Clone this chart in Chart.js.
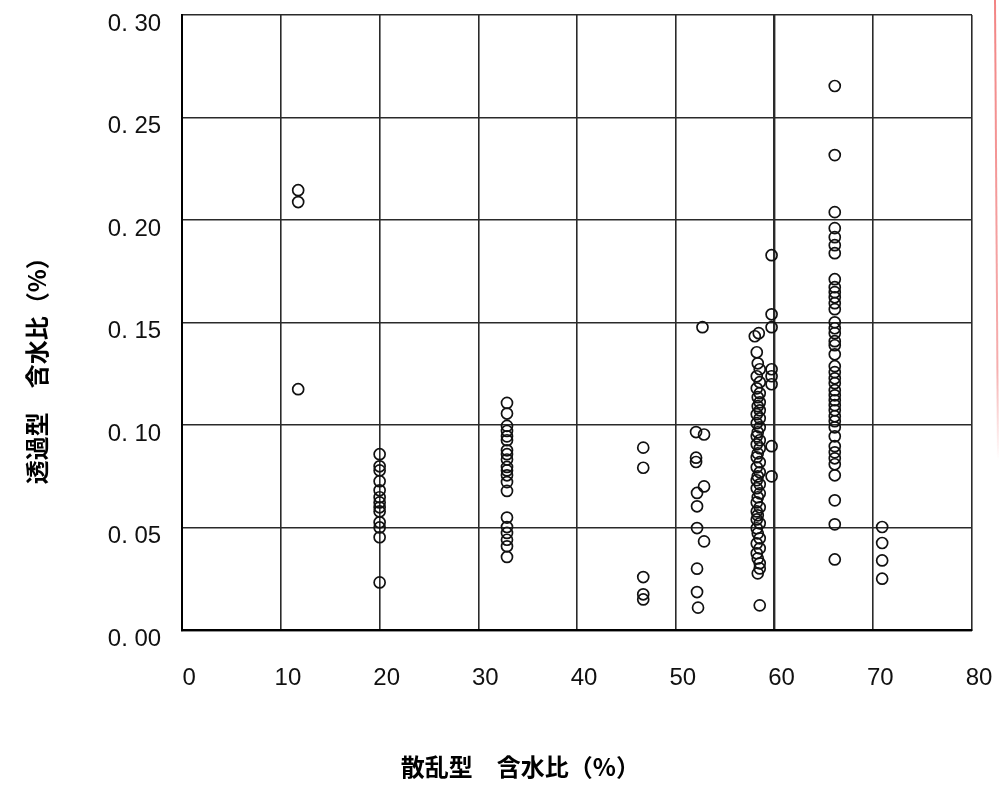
<!DOCTYPE html>
<html>
<head>
<meta charset="utf-8">
<script src="https://cdn.jsdelivr.net/npm/chart.js@4"></script>
<style>
  html, body { margin: 0; padding: 0; background: #ffffff; }
  #wrap { width: 1001px; height: 785px; }
</style>
</head>
<body>
<div id="wrap"><canvas id="chart" width="1001" height="785"></canvas></div>
<script>
// axis titles and ticks (trailing spaces nudge the titles off-centre, as in the scan)
const xTitle = "散乱型　含水比（%）　　　　　 ";
const yTitle = "透過型　含水比（%）　　　　";
const xTicks = [0, 10, 20, 30, 40, 50, 60, 70, 80];
const yTicks = [0, 0.05, 0.10, 0.15, 0.20, 0.25, 0.30];

// readings, grouped by the columns of points
const x12 = [11.75, 11.75, 11.75];
const y12 = [0.2146, 0.2088, 0.1176];

const x20 = [20.0, 20.0, 20.0, 20.0, 20.0, 20.0, 20.0, 20.0, 20.0, 20.0, 20.0, 20.0, 20.0];
const y20 = [0.0859, 0.0800, 0.0780, 0.0727, 0.0683, 0.0649, 0.0624, 0.0600, 0.0580, 0.0527, 0.0502, 0.0454, 0.0234];

const x33 = [32.9, 32.9, 32.9, 32.9, 32.9, 32.9, 32.9, 32.9, 32.9, 32.9, 32.9, 32.9, 32.9, 32.9, 32.9, 32.9, 32.9, 32.9, 32.9, 32.9];
const y33 = [0.1109, 0.1057, 0.0997, 0.0972, 0.0946, 0.0927, 0.0878, 0.0859, 0.0833, 0.0797,
             0.0780, 0.0756, 0.0723, 0.0680, 0.0550, 0.0504, 0.0475, 0.0442, 0.0410, 0.0358];

const x47 = [46.7, 46.7, 46.7, 46.7, 46.7];
const y47 = [0.0891, 0.0793, 0.0260, 0.0176, 0.0151];

const x52 = [52.7, 52.05, 52.86, 52.05, 52.05, 52.86, 52.15, 52.15, 52.15, 52.86, 52.15, 52.15, 52.25];
const y52 = [0.1478, 0.0967, 0.0955, 0.0842, 0.0821, 0.0702, 0.0670, 0.0605, 0.0499, 0.0434, 0.0301, 0.0187, 0.0111];

const x58 = [58.4, 58.0, 58.2, 58.3, 58.5, 58.2, 58.5, 58.2, 58.5, 58.3,
             58.5, 58.3, 58.5, 58.2, 58.5, 58.2, 58.5, 58.3, 58.2, 58.5,
             58.2, 58.5, 58.3, 58.2, 58.5, 58.2, 58.5, 58.3, 58.2, 58.5,
             58.2, 58.5, 58.3, 58.2, 58.5, 58.2, 58.3, 58.2, 58.5, 58.2,
             58.3, 58.5, 58.2, 58.5, 58.2, 58.3, 58.5, 58.5, 58.3, 58.5];
const y58 = [0.1449, 0.1434, 0.1356, 0.1302, 0.1273, 0.1239, 0.1210, 0.1180, 0.1156, 0.1137,
             0.1112, 0.1093, 0.1073, 0.1054, 0.1034, 0.1010, 0.0990, 0.0966, 0.0946, 0.0927,
             0.0907, 0.0888, 0.0863, 0.0844, 0.0820, 0.0795, 0.0771, 0.0751, 0.0732, 0.0712,
             0.0693, 0.0668, 0.0649, 0.0624, 0.0600, 0.0580, 0.0561, 0.0541, 0.0522, 0.0498,
             0.0473, 0.0449, 0.0424, 0.0400, 0.0376, 0.0351, 0.0327, 0.0302, 0.0278, 0.0122];

const x60 = [59.7, 59.7, 59.7, 59.7, 59.7, 59.7, 59.7, 59.7];
const y60 = [0.1829, 0.1541, 0.1478, 0.1273, 0.1239, 0.1200, 0.0898, 0.0751];

const x66 = Array(40).fill(66.1);
const y66 = [0.2654, 0.2317, 0.2039, 0.1961, 0.1917, 0.1878, 0.1839, 0.1712, 0.1673, 0.1649,
             0.1624, 0.1595, 0.1566, 0.1502, 0.1473, 0.1449, 0.1410, 0.1390, 0.1346, 0.1288,
             0.1259, 0.1229, 0.1205, 0.1171, 0.1146, 0.1122, 0.1098, 0.1073, 0.1044, 0.1020,
             0.0990, 0.0946, 0.0898, 0.0868, 0.0839, 0.0810, 0.0756, 0.0634, 0.0517, 0.0346];

const x71 = [70.9, 70.9, 70.9, 70.9];
const y71 = [0.0504, 0.0426, 0.0341, 0.0252];

const groups = [[x12, y12], [x20, y20], [x33, y33], [x47, y47], [x52, y52],
                [x58, y58], [x60, y60], [x66, y66], [x71, y71]];

const points = [];
groups.forEach(g => {
    g[0].forEach((x, i) => points.push({ x: x, y: g[1][i] }));
});

const gridColor = "#2a2a2a";

// faint pink scan edge on the right side of the page
const scanEdge = {
    id: 'scanEdge',
    afterDraw(chart) {
        const c = chart.ctx;
        const grad = c.createLinearGradient(0, 0, 0, 460);
        grad.addColorStop(0, 'rgba(240,110,110,0.85)');
        grad.addColorStop(0.8, 'rgba(240,120,120,0.6)');
        grad.addColorStop(1, 'rgba(240,120,120,0)');
        c.save();
        c.strokeStyle = grad;
        c.lineWidth = 2;
        c.beginPath();
        c.moveTo(995, 0);
        c.lineTo(998, 460);
        c.stroke();
        c.restore();
    }
};

new Chart(document.getElementById("chart").getContext("2d"), {
    type: 'scatter',
    data: {
        datasets: [{
            data: points,
            pointStyle: 'circle',
            pointRadius: 5.5,
            pointHoverRadius: 5.5,
            pointBorderWidth: 1.7,
            borderColor: '#111111',
            backgroundColor: 'rgba(0,0,0,0)'
        }]
    },
    options: {
        responsive: false,
        animation: false,
        layout: { padding: { left: 22, top: 15, right: 29, bottom: 0 } },
        plugins: {
            legend: { display: false },
            tooltip: { enabled: false }
        },
        scales: {
            x: {
                type: 'linear',
                min: 0,
                max: 80,
                afterBuildTicks: axis => { axis.ticks = xTicks.map(v => ({ value: v })); },
                afterFit: axis => { axis.paddingLeft = 0; axis.paddingRight = 0; },
                grid: {
                    color: gridColor,
                    lineWidth: ctx => (ctx.tick && ctx.tick.value === 60 ? 2.4 : 1.6),
                    drawTicks: false
                },
                border: { color: '#000000', width: 2 },
                ticks: {
                    color: '#111111',
                    padding: 34,
                    labelOffset: 7,
                    font: { family: "'Liberation Sans Narrow', 'Liberation Sans', Arial, sans-serif", size: 24 }
                },
                title: {
                    display: true,
                    text: xTitle,
                    color: '#000000',
                    padding: { top: 25, bottom: 4 },
                    font: { family: "'Noto Sans CJK JP', sans-serif", size: 24, weight: 'bold' }
                }
            },
            y: {
                type: 'linear',
                min: 0,
                max: 0.3,
                afterBuildTicks: axis => { axis.ticks = yTicks.map(v => ({ value: v })); },
                afterFit: axis => { axis.paddingTop = 0; axis.paddingBottom = 0; },
                grid: { color: gridColor, lineWidth: 1.6, drawTicks: false },
                border: { color: '#000000', width: 2 },
                ticks: {
                    color: '#111111',
                    padding: 21,
                    labelOffset: 9,
                    font: { family: "'Liberation Sans', Arial, sans-serif", size: 24 },
                    callback: v => v.toFixed(2).replace('.', '. ')
                },
                title: {
                    display: true,
                    text: yTitle,
                    color: '#000000',
                    padding: { top: 0, bottom: 36 },
                    font: { family: "'Noto Sans CJK JP', sans-serif", size: 24, weight: 'bold' }
                }
            }
        }
    },
    plugins: [scanEdge]
});
</script>
</body>
</html>
